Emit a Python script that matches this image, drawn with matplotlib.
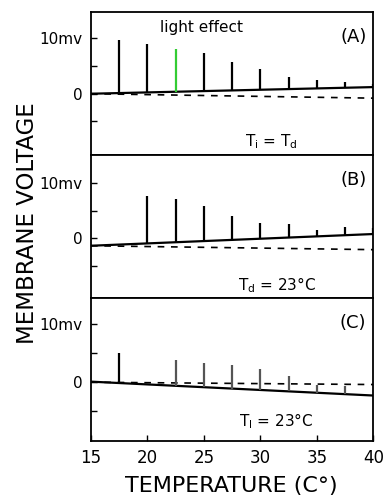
import matplotlib.pyplot as plt

# temperature grid and traces for the three recordings
temp_range = [15, 40]

# (A) Tl = Td
a_base = [0.0, 1.2]
a_dash = [0.0, -0.8]
a_flash_t = [17.5, 20, 22.5, 25, 27.5, 30, 32.5, 35, 37.5, 40]
a_flash_v = [9.7, 9.0, 8.0, 7.4, 5.8, 4.5, 3.0, 2.4, 2.1, 1.7]

# (B) Td = 23 C
b_base = [-1.3, 0.8]
b_dash = [-1.3, -2.0]
b_flash_t = [20, 22.5, 25, 27.5, 30, 32.5, 35, 37.5, 40]
b_flash_v = [7.6, 7.0, 5.8, 4.1, 2.7, 2.6, 1.6, 2.0, 1.9]

# (C) Tl = 23 C
c_base = [0.1, -2.3]
c_dash = [0.0, -0.4]
c_flash_t = [17.5, 22.5, 25, 27.5, 30, 32.5, 35, 37.5]
c_flash_v = [5.0, 3.9, 3.4, 2.9, 2.2, 1.05, -0.5, -0.7]

panels = [
    ('(A)', r'T$_{\mathrm{i}}$ = T$_{\mathrm{d}}$', 0.64, a_base, a_dash, a_flash_t, a_flash_v, (-11.0, 14.8)),
    ('(B)', r'T$_{\mathrm{d}}$ = 23°C', 0.66, b_base, b_dash, b_flash_t, b_flash_v, (-10.6, 15.0)),
    ('(C)', r'T$_{\mathrm{l}}$ = 23°C', 0.657, c_base, c_dash, c_flash_t, c_flash_v, (-10.1, 14.6)),
]


def base_at(t, base):
    # straight baseline between the two end values
    return base[0] + (base[1] - base[0]) * (t - temp_range[0]) / (temp_range[1] - temp_range[0])


fig, axes = plt.subplots(3, 1, figsize=(3.88, 4.96), dpi=100, sharex=True)
fig.subplots_adjust(left=0.2345, right=0.9626, top=0.9764, bottom=0.1115, hspace=0)

for i, (ax, (tag, cond, cx, base, dash, ft, fv, ylim)) in enumerate(zip(axes, panels)):
    ax.plot(temp_range, base, color='black', lw=1.6, solid_capstyle='butt')
    ax.plot(temp_range, dash, color='black', lw=1.2, dashes=(4, 4))
    for t, v in zip(ft, fv):
        col = 'black'
        if i == 0 and t == 22.5:
            col = '#33cc33'
        elif i == 2 and t > 20:
            col = '#555555'
        ax.plot([t, t], [base_at(t, base), v], color=col, lw=1.6, solid_capstyle='butt')

    ax.set_xlim(15, 40)
    ax.set_ylim(*ylim)
    ax.set_yticks([-5, 0, 5, 10])
    ax.set_yticklabels(['', '0', '', '10mv'])
    ax.tick_params(axis='y', direction='in', length=4, width=1, labelsize=11, pad=6)
    ax.tick_params(axis='x', direction='in', length=4, width=1, labelsize=12, pad=6)
    for sp in ax.spines.values():
        sp.set_linewidth(1.3)

    ax.text(0.975, 0.82, tag, transform=ax.transAxes, ha='right', va='center', fontsize=13)
    ax.text(cx, 0.09 if i < 2 else 0.14, cond, transform=ax.transAxes, ha='center',
            va='center', fontsize=11)

axes[0].text(0.39, 0.89, 'light effect', transform=axes[0].transAxes, ha='center',
             va='center', fontsize=11)

axes[2].set_xticks([15, 20, 25, 30, 35, 40])
axes[0].tick_params(axis='x', length=0)
axes[1].tick_params(axis='x', length=0)
fig.text(0.597, 0.02, 'TEMPERATURE (C°)', ha='center', va='center', fontsize=16)
fig.text(0.07, 0.55, 'MEMBRANE VOLTAGE', rotation=90, ha='center', va='center', fontsize=16.5)

fig.savefig('out.png', dpi=100)
